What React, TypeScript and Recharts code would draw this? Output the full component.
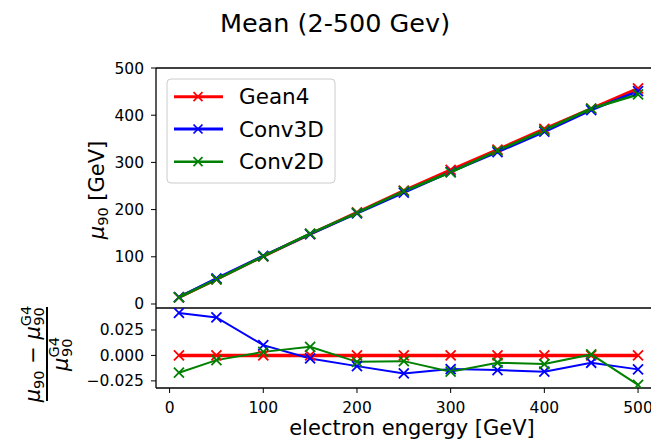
import React from 'react';
import { LineChart, Line, XAxis, YAxis, ReferenceLine } from 'recharts';

const energies = [10, 50, 100, 150, 200, 250, 300, 350, 400, 450, 500];

const gean4Mean = [14, 52, 101, 148, 194, 240, 284, 327, 371, 414, 457];
const conv3dMean = [14.6, 54, 102, 148, 192, 236, 280, 322, 365, 411, 451];
const conv2dMean = [13.8, 52, 101, 149, 193, 239, 279, 325, 368, 414, 444];

const gean4Rel = [0, 0, 0, 0, 0, 0, 0, 0, 0, 0, 0];
const conv3dRel = [0.0418, 0.0373, 0.0101, -0.003, -0.0105, -0.0177, -0.0134, -0.0144, -0.016, -0.0072, -0.0137];
const conv2dRel = [-0.017, -0.0046, 0.0035, 0.0084, -0.0063, -0.0056, -0.016, -0.0072, -0.0085, 0.001, -0.029];

const xTicks = [0, 100, 200, 300, 400, 500];
const meanTicks = [0, 100, 200, 300, 400, 500];
const relTicks = [-0.025, 0, 0.025];

const seriesNames = ['Gean4', 'Conv3D', 'Conv2D'];
const COLORS = ['#ff0000', '#0000ff', '#008000'];

const FONT = '"DejaVu Sans", sans-serif';
const X_DOMAIN: [number, number] = [-14.5, 524.5];
const MEAN_DOMAIN: [number, number] = [-8.5, 500];
const REL_DOMAIN: [number, number] = [-0.032, 0.0466];

const meanData = energies.map((e, i) => ({
  e,
  g4: gean4Mean[i],
  c3: conv3dMean[i],
  c2: conv2dMean[i],
}));

const relData = energies.map((e, i) => ({
  e,
  g4: gean4Rel[i],
  c3: conv3dRel[i],
  c2: conv2dRel[i],
}));

function xPath(cx: number, cy: number, s: number) {
  return `M${cx - s},${cy - s}L${cx + s},${cy + s}M${cx - s},${cy + s}L${cx + s},${cy - s}`;
}

// dot renderer for the x markers
const xDot = (prefix: string, color: string) => (p: any) => {
  if (p.cx == null || p.cy == null) return <g key={`${prefix}-${p.index}`} />;
  return (
    <path key={`${prefix}-${p.index}`} d={xPath(p.cx, p.cy, 5)} stroke={color} strokeWidth={1.8} fill="none" />
  );
};

const tickStyle = { fontFamily: FONT, fontSize: 15.5, fill: '#000' };
const axisStroke = { stroke: '#000', strokeWidth: 1.3 };

const fmtRel = (v: number) => v.toFixed(3).replace('-', '\u2212');

function Legend() {
  const rows = [18.7, 51, 83.7];
  return (
    <svg width={170} height={106} style={{ position: 'absolute', left: 166, top: 78 }}>
      <rect x={1} y={1} width={168} height={104} rx={4} fill="rgba(255,255,255,0.8)" stroke="#cccccc" strokeWidth={1} />
      {seriesNames.map((name, i) => (
        <g key={name}>
          <line x1={8} x2={57} y1={rows[i]} y2={rows[i]} stroke={COLORS[i]} strokeWidth={i === 2 ? 2.6 : 3} />
          <path d={xPath(32, rows[i], 4.5)} stroke={COLORS[i]} strokeWidth={1.7} fill="none" />
          <text x={73} y={rows[i]} dominantBaseline="central" fontFamily={FONT} fontSize={21.5} fill="#000">
            {name}
          </text>
        </g>
      ))}
    </svg>
  );
}

function Labels() {
  return (
    <svg width={651} height={444} style={{ position: 'absolute', left: 0, top: 0, pointerEvents: 'none' }}>
      <text x={335} y={31.7} textAnchor="middle" fontFamily={FONT} fontSize={25.5} fill="#000">
        Mean (2-500 Gev)
      </text>
      <text x={412} y={434.5} textAnchor="middle" fontFamily={FONT} fontSize={21} fill="#000">
        electron engergy [GeV]
      </text>
      <g transform="translate(104,190) rotate(-90)">
        <text x={0} y={0} textAnchor="middle" fontFamily={FONT} fontSize={21} fill="#000">
          <tspan fontStyle="italic">μ</tspan>
          <tspan fontSize={14.5} dy={4}>90</tspan>
          <tspan dy={-4}> [GeV]</tspan>
        </text>
      </g>
      <g transform="translate(47,354) rotate(-90)">
        <line x1={-47} x2={47} y1={0} y2={0} stroke="#000" strokeWidth={2} />
        <text x={0} y={-7} textAnchor="middle" fontFamily={FONT} fontSize={21} fill="#000">
          <tspan fontStyle="italic">μ</tspan>
          <tspan fontSize={14.5} dy={4}>90</tspan>
          <tspan dy={-4}> − </tspan>
          <tspan fontStyle="italic">μ</tspan>
          <tspan fontSize={14.5} dy={-9}>G4</tspan>
          <tspan fontSize={14.5} dx={-20} dy={13}>90</tspan>
        </text>
        <text x={0} y={21} textAnchor="middle" fontFamily={FONT} fontSize={21} fill="#000">
          <tspan fontStyle="italic">μ</tspan>
          <tspan fontSize={14.5} dy={-9}>G4</tspan>
          <tspan fontSize={14.5} dx={-20} dy={13}>90</tspan>
        </text>
      </g>
    </svg>
  );
}

export default function App() {
  return (
    <div style={{ position: 'fixed', left: 0, top: 0, width: 651, height: 444, overflow: 'hidden', background: '#fff' }}>
      <div style={{ position: 'absolute', left: 0, top: 0 }}>
        <LineChart width={700} height={320} data={meanData} margin={{ top: 68, right: 39, bottom: 12, left: 106 }}>
          <XAxis
            dataKey="e"
            type="number"
            domain={X_DOMAIN}
            ticks={xTicks}
            allowDataOverflow
            tick={false}
            tickLine={false}
            height={0}
            axisLine={axisStroke}
          />
          <YAxis
            type="number"
            domain={MEAN_DOMAIN}
            ticks={meanTicks}
            allowDataOverflow
            width={50}
            tickSize={5}
            tickMargin={7}
            tick={tickStyle}
            tickLine={{ stroke: '#000' }}
            axisLine={axisStroke}
          />
          <ReferenceLine y={500} stroke="#000" strokeWidth={1.3} />
          <ReferenceLine x={524.5} stroke="#000" strokeWidth={1.3} />
          <Line dataKey="g4" stroke={COLORS[0]} strokeWidth={3} isAnimationActive={false} dot={xDot('g4', COLORS[0])} />
          <Line dataKey="c3" stroke={COLORS[1]} strokeWidth={2.6} isAnimationActive={false} dot={xDot('c3', COLORS[1])} />
          <Line dataKey="c2" stroke={COLORS[2]} strokeWidth={2.6} isAnimationActive={false} dot={xDot('c2', COLORS[2])} />
        </LineChart>
      </div>
      <div style={{ position: 'absolute', left: 0, top: 0 }}>
        <LineChart width={700} height={444} data={relData} margin={{ top: 308, right: 39, bottom: 26, left: 106 }}>
          <XAxis
            dataKey="e"
            type="number"
            domain={X_DOMAIN}
            ticks={xTicks}
            allowDataOverflow
            height={30}
            tickSize={5}
            tickMargin={9}
            tick={tickStyle}
            tickLine={{ stroke: '#000' }}
            axisLine={axisStroke}
          />
          <YAxis
            type="number"
            domain={REL_DOMAIN}
            ticks={relTicks}
            allowDataOverflow
            width={50}
            tickSize={5}
            tickMargin={7}
            tick={tickStyle}
            tickFormatter={fmtRel}
            tickLine={{ stroke: '#000' }}
            axisLine={axisStroke}
          />
          <ReferenceLine y={0.0466} stroke="#000" strokeWidth={1.3} />
          <Line dataKey="g4" stroke={COLORS[0]} strokeWidth={3.5} isAnimationActive={false} dot={xDot('rg4', COLORS[0])} />
          <Line dataKey="c3" stroke={COLORS[1]} strokeWidth={2} isAnimationActive={false} dot={xDot('rc3', COLORS[1])} />
          <Line dataKey="c2" stroke={COLORS[2]} strokeWidth={2} isAnimationActive={false} dot={xDot('rc2', COLORS[2])} />
        </LineChart>
      </div>
      <Legend />
      <Labels />
    </div>
  );
}
